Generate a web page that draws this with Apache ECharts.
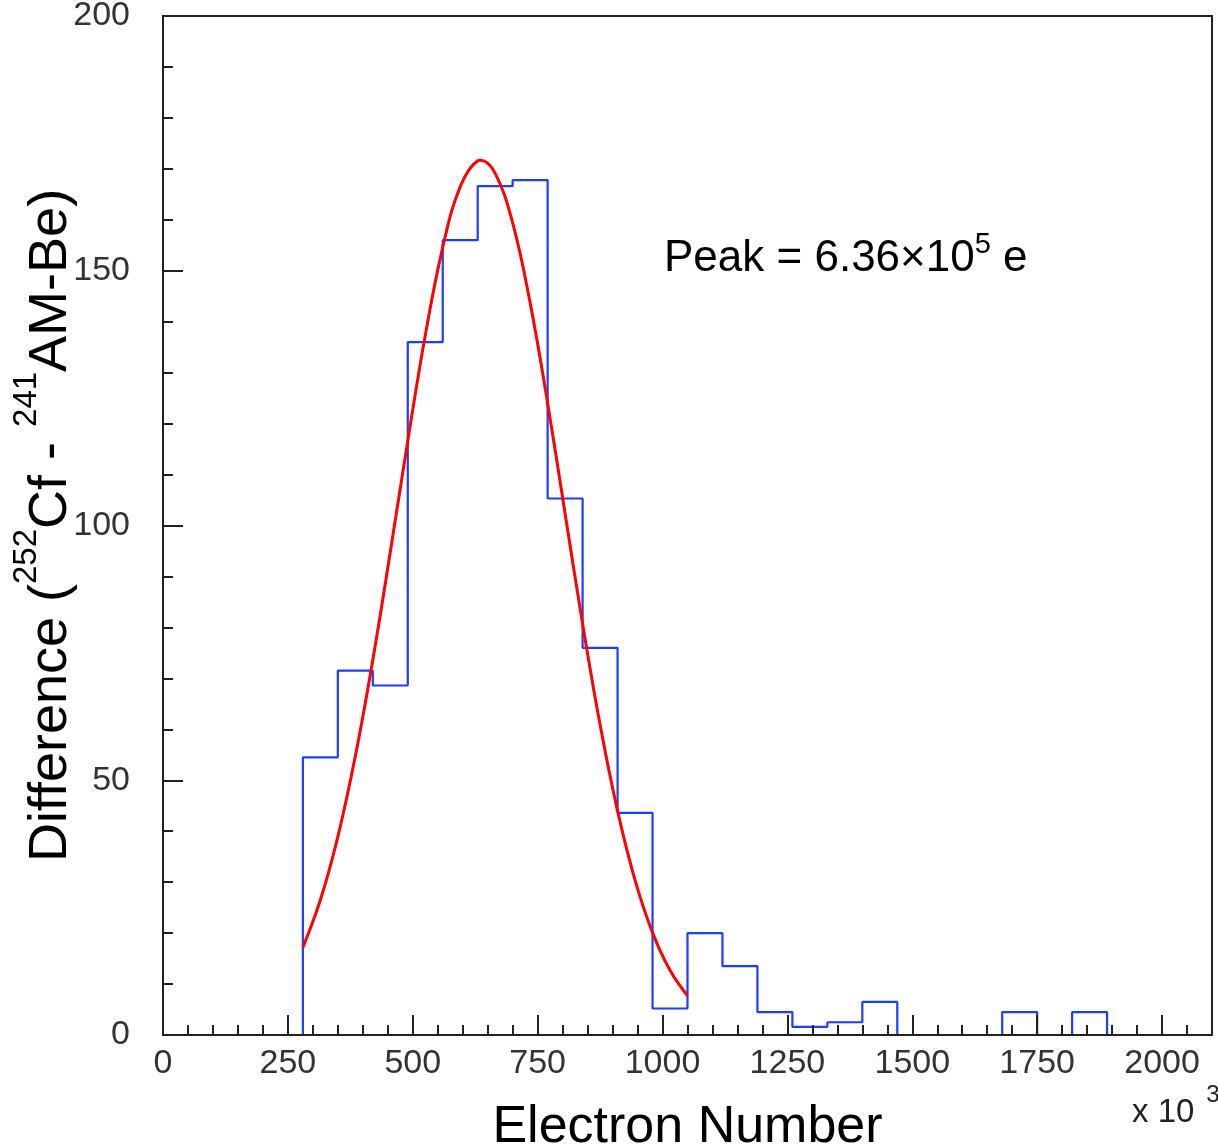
<!DOCTYPE html>
<html>
<head>
<meta charset="utf-8">
<script src="https://cdn.jsdelivr.net/npm/echarts@6/dist/echarts.min.js"></script>
<style>
html,body{margin:0;padding:0;background:#fff;}
#chart{width:1218px;height:1146px;}
</style>
</head>
<body>
<div id="chart"></div>
<script>
// Histogram: left bin edges (bin width 70, in units of 10^3 electrons) and contents
var binWidth = 70;
var binLeftEdges = [280, 350, 420, 490, 560, 630, 700, 770, 840, 910, 980, 1050, 1120, 1190, 1260, 1330, 1400, 1470, 1540, 1610, 1680, 1750, 1820];
var binValues    = [54.5, 71.5, 68.6, 136, 156, 166.6, 167.8, 105.3, 76, 43.6, 5.2, 20, 13.5, 4.5, 1.6, 2.5, 6.5, 0, 0, 0, 4.5, 0, 4.5];

// Fitted curve
var fitX = [280, 315, 350, 385, 420, 455, 490, 525, 560, 595, 630, 636, 665, 700, 735, 770, 805, 840, 875, 910, 945, 980, 1015, 1050];
var fitY = [17.2, 26.5, 38.9, 54.7, 73.6, 94.8, 116.6, 137.3, 154.6, 166.5, 171.6, 171.7, 169.1, 159.4, 143.7, 124.0, 102.3, 80.7, 60.9, 44.0, 30.4, 20.1, 12.7, 7.7];

var xTicksMajor = 250, xTicksMinor = 50, xMax = 2100;
var yTicksMajor = 50, yMax = 200;

var histData = [[binLeftEdges[0], 0]];
for (var i = 0; i < binLeftEdges.length; i++) histData.push([binLeftEdges[i], binValues[i]]);
histData.push([binLeftEdges[binLeftEdges.length - 1] + binWidth, 0]);

var fitData = fitX.map(function (x, i) { return [x, fitY[i]]; });

var FONT = 'Liberation Sans, Arial, sans-serif';
var axisColor = '#222';
var chart = echarts.init(document.getElementById('chart'), null, {renderer: 'canvas'});
chart.setOption({
  animation: false,
  backgroundColor: '#fff',
  grid: {
    left: 163, top: 16, right: 6, bottom: 111,
    containLabel: false, outerBoundsMode: 'none',
    show: true, borderColor: axisColor, borderWidth: 2, backgroundColor: 'transparent'
  },
  xAxis: [{
    type: 'value', min: 0, max: xMax, interval: xTicksMajor, z: 5,
    axisLine: {show: true, onZero: false, lineStyle: {color: axisColor, width: 2}},
    axisTick: {show: true, inside: true, length: 20, lineStyle: {color: axisColor, width: 2}},
    splitLine: {show: false},
    axisLabel: {
      margin: 12, fontSize: 34, color: '#333', fontFamily: FONT,
      formatter: function (v) { return v > 2000 ? '' : String(v); }
    },
    name: 'Electron Number', nameLocation: 'middle', nameGap: 67, nameMoveOverlap: false,
    nameTextStyle: {fontSize: 52, color: '#000', fontFamily: FONT}
  }, {
    type: 'value', min: 0, max: xMax, interval: xTicksMinor, position: 'bottom', z: 5,
    axisLine: {show: false},
    axisTick: {show: true, inside: true, length: 10, lineStyle: {color: axisColor, width: 2}},
    axisLabel: {show: false}, splitLine: {show: false}
  }],
  yAxis: [{
    type: 'value', min: 0, max: yMax, interval: yTicksMajor, z: 5,
    axisLine: {show: true, onZero: false, lineStyle: {color: axisColor, width: 2}},
    axisTick: {show: true, inside: true, length: 20, lineStyle: {color: axisColor, width: 2}},
    minorTick: {show: true, splitNumber: 5, length: 10, lineStyle: {color: axisColor, width: 2}},
    splitLine: {show: false}, minorSplitLine: {show: false},
    axisLabel: {margin: 33, fontSize: 34, color: '#333', fontFamily: FONT,
      formatter: function (v) { return String(v); }},
    name: '{m|Difference (}{s|252}{m|Cf - }{s|241}{m|AM-Be)}',
    nameLocation: 'middle', nameRotate: 90, nameGap: 71, nameMoveOverlap: false,
    nameTextStyle: {
      color: '#000', fontFamily: FONT,
      rich: {
        m: {fontSize: 54, lineHeight: 82, color: '#000', fontFamily: FONT},
        s: {fontSize: 33, lineHeight: 33, verticalAlign: 'top', color: '#000', fontFamily: FONT}
      }
    }
  }],
  graphic: [{
    type: 'text', left: 664, top: 230, z: 10,
    style: {
      text: '{m|Peak = 6.36×10}{s|5}{m| e}',
      rich: {
        m: {fontSize: 44, lineHeight: 58, fill: '#000', fontFamily: FONT},
        s: {fontSize: 29, lineHeight: 29, verticalAlign: 'top', fill: '#000', fontFamily: FONT}
      }
    }
  }, {
    type: 'text', left: 1132, top: 1083, z: 10,
    style: {
      text: '{m|x 10}{s|3}',
      rich: {
        m: {fontSize: 33, lineHeight: 60, fill: '#222', fontFamily: FONT},
        s: {fontSize: 24, lineHeight: 24, verticalAlign: 'top', padding: [0, 0, 0, 12], fill: '#222', fontFamily: FONT}
      }
    }
  }],
  series: [{
    type: 'line', xAxisIndex: 0, yAxisIndex: 0, data: histData, step: 'end',
    showSymbol: false, symbol: 'none', z: 2,
    lineStyle: {color: '#1f3dff', width: 2.2}, itemStyle: {color: '#1f3dff'}
  }, {
    type: 'line', xAxisIndex: 0, yAxisIndex: 0, data: fitData, smooth: 0.4,
    showSymbol: false, symbol: 'none', z: 3,
    lineStyle: {color: '#ff0000', width: 3}, itemStyle: {color: '#ff0000'}
  }]
});
</script>
</body>
</html>
